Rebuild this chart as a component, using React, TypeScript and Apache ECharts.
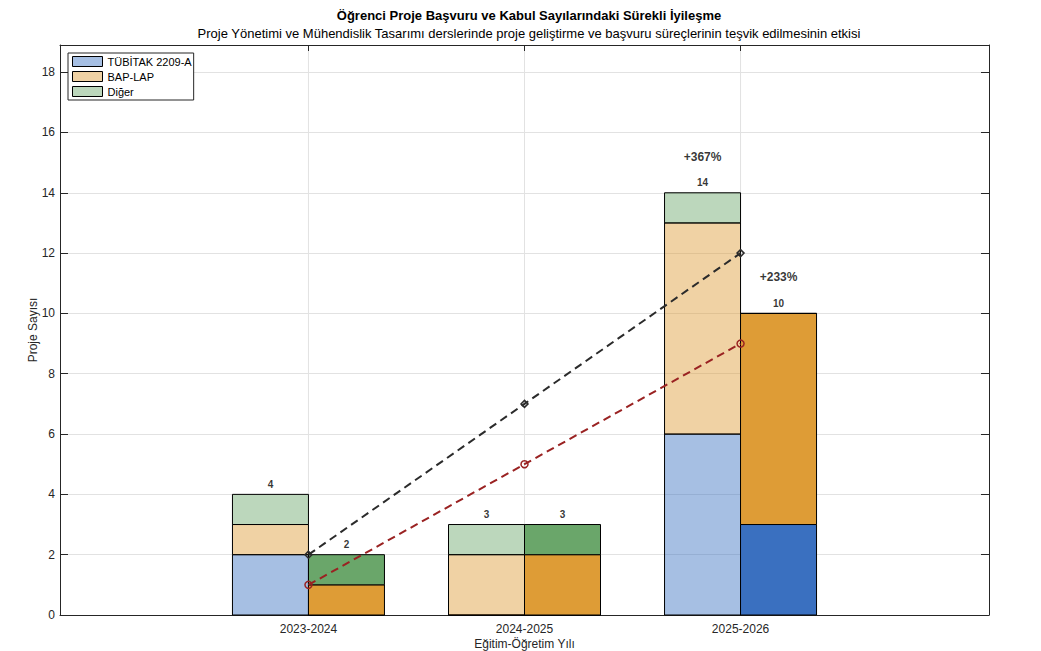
import React, { useEffect, useRef } from "react";
import * as echarts from "echarts";

const categories = ["2023-2024", "2024-2025", "2025-2026"];
const seriesNames = ["TÜBİTAK 2209-A", "BAP-LAP", "Diğer"];
// Başvuru (applications)
const tubitakApp = [2, 0, 6];
const bapApp = [1, 2, 7];
const digerApp = [1, 1, 1];
// Kabul (acceptances)
const tubitakAcc = [0, 0, 3];
const bapAcc = [1, 2, 7];
const digerAcc = [1, 1, 0];
// Trend lines
const trendApp = [2, 7, 12];
const trendAcc = [1, 5, 9];
// Growth labels
const growthLabels = ["+367%", "+233%"];
const growthValues = [15.2, 11.2];

const darkColors = ["#3a70c0", "#de9c36", "#6aa66a"];
const lightColors = ["rgba(58,112,192,0.45)", "rgba(222,156,54,0.45)", "rgba(106,166,106,0.45)"];

const FONT = "'Liberation Sans', Arial, Helvetica, sans-serif";
const AX = "#262626";
const BAR_W = 76;

export default function App() {
  const ref = useRef<HTMLDivElement>(null);
  useEffect(() => {
    if (!ref.current) return;
    const chart = echarts.init(ref.current, null, { renderer: "svg" });
    const xs = categories.map((_, i) => i + 1);
    const appSets = [tubitakApp, bapApp, digerApp];
    const accSets = [tubitakAcc, bapAcc, digerAcc];
    const appTotals = xs.map((_, i) => appSets.reduce((s, a) => s + a[i], 0));
    const accTotals = xs.map((_, i) => accSets.reduce((s, a) => s + a[i], 0));

    const renderBar = (params: any, api: any) => {
      const x = api.value(0);
      const base = api.value(1);
      const val = api.value(2);
      const side = api.value(3);
      const p0 = api.coord([x, base]);
      const p1 = api.coord([x, base + val]);
      return {
        type: "rect",
        shape: {
          x: p0[0] + (side < 0 ? -BAR_W : 0),
          y: p1[1],
          width: BAR_W,
          height: p0[1] - p1[1],
        },
        style: { fill: api.visual("color"), stroke: "#000", lineWidth: 1 },
      };
    };

    const renderVLine = (params: any, api: any) => {
      const x = api.value(0);
      const top = api.coord([x, 18.9]);
      const bot = api.coord([x, 0]);
      return {
        type: "line",
        shape: { x1: top[0], y1: top[1], x2: bot[0], y2: bot[1] },
        style: { stroke: "#e2e2e2", lineWidth: 1 },
      };
    };

    const series: any[] = [];
    // vertical grid lines under bars
    series.push({
      name: "vgrid",
      type: "custom",
      renderItem: renderVLine,
      encode: { x: 0 },
      data: xs.map((x) => [x]),
      z: 0,
      silent: true,
    });
    const addStack = (sets: number[][], colors: string[], side: number, suffix: string) => {
      const bases = xs.map(() => 0);
      sets.forEach((arr, k) => {
        const data = arr.map((v, i) => {
          const row = [xs[i], bases[i], v, side];
          bases[i] += v;
          return row;
        });
        series.push({
          name: seriesNames[k] + suffix,
          type: "custom",
          renderItem: renderBar,
          encode: { x: 0, y: [1, 2] },
          data,
          z: 2,
          itemStyle: { color: colors[k], borderColor: "#000", borderWidth: 1 },
        });
      });
    };
    addStack(appSets, lightColors, -1, "");
    addStack(accSets, darkColors, 1, " (Kabul)");

    const totalLabel = (totals: number[], side: number, name: string) => ({
      name,
      type: "scatter",
      symbolSize: 0,
      silent: true,
      z: 6,
      data: totals.map((t, i) => [xs[i], t]),
      label: {
        show: true,
        position: "top",
        distance: 5,
        offset: [(side * BAR_W) / 2, 0],
        fontFamily: FONT,
        fontWeight: "bold",
        fontSize: 10,
        color: "#000",
        formatter: (p: any) => String(totals[p.dataIndex]),
      },
    });
    series.push(totalLabel(appTotals, -1, "appTotals"));
    series.push(totalLabel(accTotals, 1, "accTotals"));

    series.push({
      name: "Başvuru Trendi",
      type: "line",
      data: trendApp.map((v, i) => [xs[i], v]),
      symbol: "diamond",
      symbolSize: 7,
      z: 5,
      lineStyle: { color: "#2b2b2b", width: 2, type: [8, 5] },
      itemStyle: { color: "rgba(0,0,0,0)", borderColor: "#2b2b2b", borderWidth: 1.5 },
    });
    series.push({
      name: "Kabul Trendi",
      type: "line",
      data: trendAcc.map((v, i) => [xs[i], v]),
      symbol: "circle",
      symbolSize: 7,
      z: 5,
      lineStyle: { color: "#9a2222", width: 2, type: [8, 5] },
      itemStyle: { color: "rgba(0,0,0,0)", borderColor: "#9a2222", borderWidth: 1.5 },
    });
    growthLabels.forEach((lab, j) => {
      series.push({
        name: "growth" + j,
        type: "scatter",
        symbolSize: 0,
        silent: true,
        z: 6,
        data: [[xs[xs.length - 1], growthValues[j]]],
        label: {
          show: true,
          position: "inside",
          offset: [j === 0 ? -BAR_W / 2 : BAR_W / 2, 0],
          formatter: lab,
          fontFamily: FONT,
          fontWeight: "bold",
          fontSize: 12,
          color: "#000",
        },
      });
    });

    const xLabelFmt = (v: number) => {
      if (Math.abs(v - Math.round(v)) > 1e-6) return "";
      return categories[Math.round(v) - 1] ?? "";
    };

    chart.setOption({
      animation: false,
      textStyle: { fontFamily: FONT },
      title: {
        text: "Öğrenci Proje Başvuru ve Kabul Sayılarındaki Sürekli İyileşme",
        subtext:
          "Proje Yönetimi ve Mühendislik Tasarımı derslerinde proje geliştirme ve başvuru süreçlerinin teşvik edilmesinin etkisi",
        left: 524,
        textAlign: "center",
        top: 4,
        itemGap: 5,
        textStyle: { fontFamily: FONT, fontWeight: "bold", fontSize: 13, color: "#000" },
        subtextStyle: { fontFamily: FONT, fontSize: 13, color: "#000" },
      },
      legend: {
        data: seriesNames.map((n, k) => ({
          name: n,
          icon: "rect",
          itemStyle: { color: lightColors[k], borderColor: "#000", borderWidth: 1 },
        })),
        orient: "vertical",
        left: 68,
        top: 53,
        padding: [3, 2, 3, 4],
        itemGap: 4,
        itemWidth: 30,
        itemHeight: 10,
        borderColor: AX,
        borderWidth: 1,
        backgroundColor: "#fff",
        textStyle: { fontFamily: FONT, fontSize: 11, color: "#000" },
      },
      grid: { left: 60, right: 52, top: 45, bottom: 36, containLabel: false, outerBoundsMode: "none" },
      xAxis: [
        {
          type: "value",
          min: -0.15,
          max: 4.15,
          name: "Eğitim-Öğretim Yılı",
          nameLocation: "middle",
          nameGap: 23,
          nameMoveOverlap: false,
          nameTextStyle: { fontFamily: FONT, fontSize: 12, lineHeight: 12, color: AX },
          axisLine: { show: true, onZero: false, lineStyle: { color: AX } },
          axisTick: { show: true, inside: true, length: 6, customValues: xs, lineStyle: { color: AX } },
          axisLabel: { customValues: xs, formatter: xLabelFmt, fontFamily: FONT, fontSize: 12, color: AX, margin: 8 },
          splitLine: { show: false },
        },
        {
          type: "value",
          position: "top",
          min: -0.15,
          max: 4.15,
          axisLine: { show: true, onZero: false, lineStyle: { color: AX } },
          axisTick: { show: true, inside: true, length: 6, customValues: xs, lineStyle: { color: AX } },
          axisLabel: { show: false },
          splitLine: { show: false },
        },
      ],
      yAxis: [
        {
          type: "value",
          min: 0,
          max: 18.9,
          interval: 2,
          name: "Proje Sayısı",
          nameLocation: "middle",
          nameGap: 21,
          nameMoveOverlap: false,
          nameTextStyle: { fontFamily: FONT, fontSize: 12, lineHeight: 12, color: AX },
          axisLine: { show: true, onZero: false, lineStyle: { color: AX } },
          axisTick: { show: true, inside: true, length: 8, lineStyle: { color: AX } },
          axisLabel: {
            fontFamily: FONT,
            fontSize: 12,
            color: AX,
            margin: 5,
            formatter: (v: number) =>
              Math.abs(v - Math.round(v)) < 1e-6 && Math.round(v) % 2 === 0 ? String(Math.round(v)) : "",
          },
          splitLine: { show: true, lineStyle: { color: "#e2e2e2", width: 1 } },
        },
        {
          type: "value",
          position: "right",
          min: 0,
          max: 18.9,
          interval: 2,
          axisLine: { show: true, onZero: false, lineStyle: { color: AX } },
          axisTick: { show: true, inside: true, length: 8, lineStyle: { color: AX } },
          axisLabel: { show: false },
          splitLine: { show: false },
        },
      ],
      series,
    });
    return () => chart.dispose();
  }, []);
  return (
    <div
      ref={ref}
      style={{ position: "fixed", left: 0, top: 0, width: 1041, height: 651, background: "#fff" }}
    />
  );
}
